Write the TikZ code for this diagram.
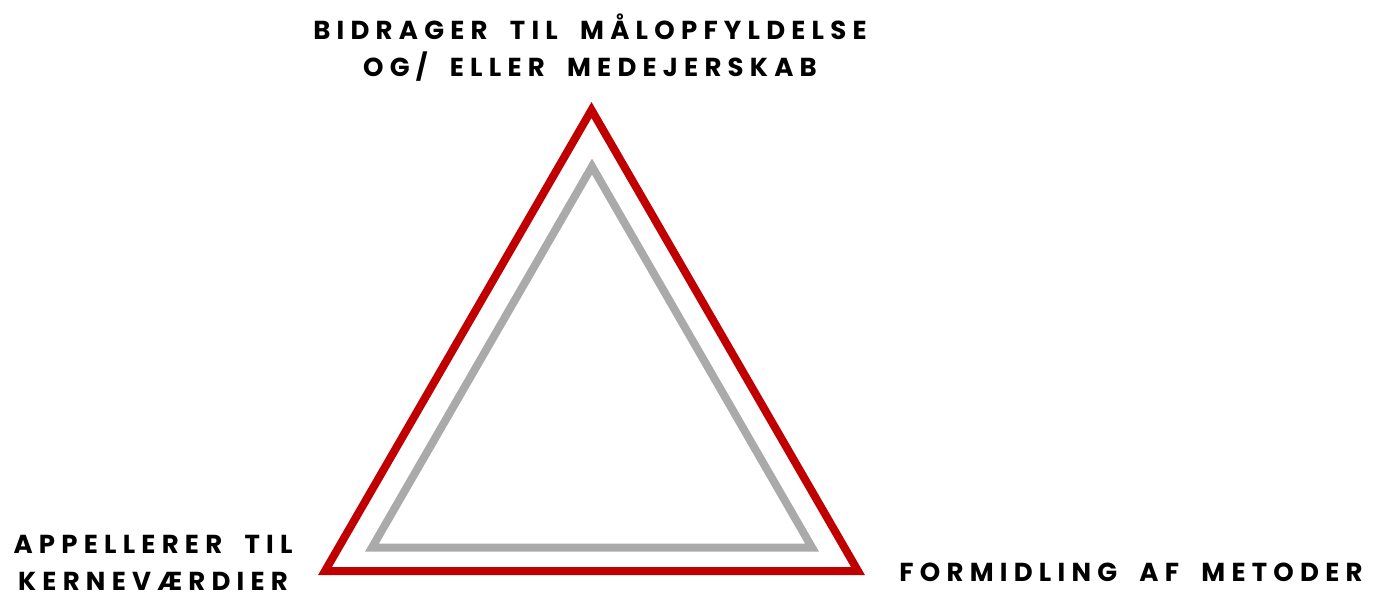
\documentclass[tikz,border=0pt]{standalone}
\usepackage{fontspec}
\setmainfont{Poppins}[BoldFont={* Bold}]
\newfontfamily\capsfont{Poppins}[UprightFont={* Bold},LetterSpace=24,WordSpace=1.9]
\usepackage{tikz}
\usetikzlibrary{positioning}
\definecolor{edgered}{HTML}{C00000}
\definecolor{edgegray}{HTML}{AAAAAA}

\begin{document}
\begin{tikzpicture}[
  x=1pt,y=-1pt,
  rim/.style={draw=#1,line width=8pt,line join=miter},
  cornerlab/.style={inner sep=0pt,align=center,font=\capsfont\fontsize{26}{37}\selectfont},
]
\useasboundingbox (0,0) rectangle (1373,597);

% Outer triangle
\coordinate (rtop) at (591.5,110);
\coordinate (rleft) at (325,571);
\coordinate (rright) at (858,571);
\draw[rim=edgered] (rtop) -- (rleft) -- (rright) -- cycle;

% Inner triangle
\coordinate (gtop) at (592,166.5);
\coordinate (gleft) at (372,547.5);
\coordinate (gright) at (812,547.5);
\draw[rim=edgegray] (gtop) -- (gleft) -- (gright) -- cycle;

% Corner labels
\node[cornerlab] (goal) at (590,48) {BIDRAGER TIL MÅLOPFYLDELSE\\OG/ ELLER MEDEJERSKAB};
\node[cornerlab] (values) at (153,563) {APPELLERER TIL\\KERNEVÆRDIER};
\node[cornerlab] (method) at (1131,572) {FORMIDLING AF METODER};
\end{tikzpicture}
\end{document}
